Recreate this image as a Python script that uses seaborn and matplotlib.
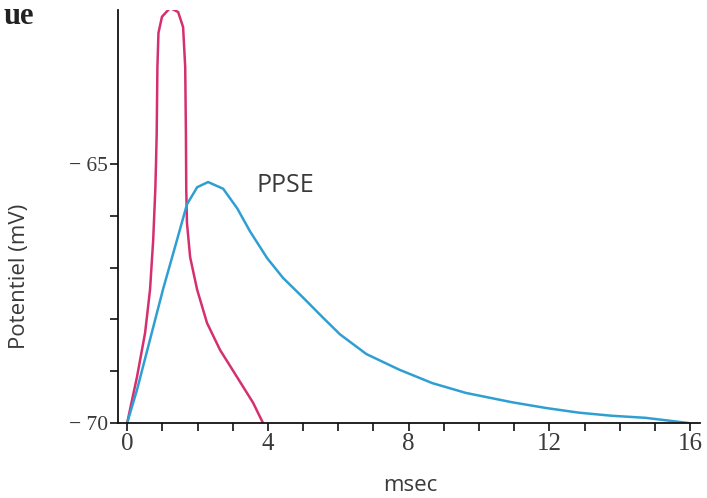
import numpy as np
import pandas as pd
import seaborn as sns
import matplotlib.pyplot as plt
from matplotlib.ticker import MultipleLocator, FixedLocator

# -------------------------------------------------
# Données (msec, mV)
# -------------------------------------------------
pa_temps = [0.0, 0.28, 0.51, 0.65, 0.74, 0.80, 0.82, 0.84, 0.86, 0.89, 0.99,
            1.22, 1.45, 1.59, 1.65, 1.67, 1.68, 1.70, 1.79, 1.99, 2.27, 2.64,
            3.12, 3.58, 3.86]
pa_potentiel = [-70.0, -69.11, -68.26, -67.43, -66.47, -65.5, -65.0, -64.4,
                -63.13, -62.47, -62.16, -61.99, -62.07, -62.36, -63.13, -64.4,
                -65.5, -66.14, -66.8, -67.43, -68.07, -68.59, -69.11, -69.61,
                -70.0]

ppse_temps = [0.0, 0.28, 0.65, 1.02, 1.42, 1.70, 1.99, 2.30, 2.73, 3.13, 3.49,
              3.98, 4.43, 5.00, 5.57, 6.05, 6.80, 7.73, 8.67, 9.63, 10.94,
              11.9, 12.83, 13.77, 14.73, 15.95]
ppse_potentiel = [-70.0, -69.36, -68.39, -67.42, -66.46, -65.78, -65.45,
                  -65.35, -65.48, -65.86, -66.3, -66.82, -67.2, -67.58,
                  -67.97, -68.29, -68.67, -68.97, -69.23, -69.42, -69.6,
                  -69.71, -69.8, -69.86, -69.9, -70.0]

x_labels = [0, 4, 8, 12, 16]
y_labels = [-70, -65]

ROSE = "#d4306f"
BLEU = "#2f9fd3"
GRIS = "#3a3a3a"

pa = pd.DataFrame({"t": pa_temps, "v": pa_potentiel})
ppse = pd.DataFrame({"t": ppse_temps, "v": ppse_potentiel})

sns.set_style("ticks")

fig = plt.figure(figsize=(7.07, 4.98), dpi=100)
ax = fig.add_axes([118 / 707, 75 / 498, 582 / 707, 413 / 498])

sns.lineplot(data=pa, x="t", y="v", sort=False, estimator=None,
             color=ROSE, linewidth=1.8, ax=ax)
sns.lineplot(data=ppse, x="t", y="v", sort=False, estimator=None,
             color=BLEU, linewidth=1.8, ax=ax)

ax.set_xlim(-0.26, 16.28)
ax.set_ylim(-70.0, -62.03)

sns.despine(ax=ax)
for s in ("left", "bottom"):
    ax.spines[s].set_linewidth(1.3)
    ax.spines[s].set_color("#111111")

# graduations
ax.xaxis.set_major_locator(FixedLocator(x_labels))
ax.xaxis.set_minor_locator(MultipleLocator(1))
ax.yaxis.set_major_locator(FixedLocator(y_labels))
ax.yaxis.set_minor_locator(FixedLocator([-69, -68, -67, -66]))
ax.set_xticklabels([str(v) for v in x_labels])
ax.set_yticklabels(["\u2212 " + str(abs(v)) for v in y_labels])
ax.tick_params(axis="both", which="both", direction="out", length=6,
               width=1.2, color="#111111")
ax.tick_params(axis="x", labelsize=18, labelcolor=GRIS, pad=1)
ax.tick_params(axis="y", labelsize=15.5, labelcolor=GRIS, pad=1)
for lab in ax.get_xticklabels() + ax.get_yticklabels():
    lab.set_family("Liberation Serif")

ax.set_xlabel("msec", fontsize=16, color=GRIS, family="Open Sans")
ax.xaxis.label.set_va("center")
ax.xaxis.set_label_coords(0.502, -0.152)
ax.set_ylabel("Potentiel (mV)", fontsize=16, color=GRIS, family="Open Sans")
ax.yaxis.set_label_coords(-0.152, 0.354)

ax.text(4.49, -65.42, "PPSE", fontsize=18, color=GRIS, family="Open Sans",
        ha="center", va="center")

# fragment du titre de la page
fig.text(4 / 707, 1 - 24 / 498, "ue", fontsize=22, fontweight="bold",
         family="Liberation Serif", color="#222222", ha="left", va="baseline")

fig.savefig("out.png", dpi=100)
